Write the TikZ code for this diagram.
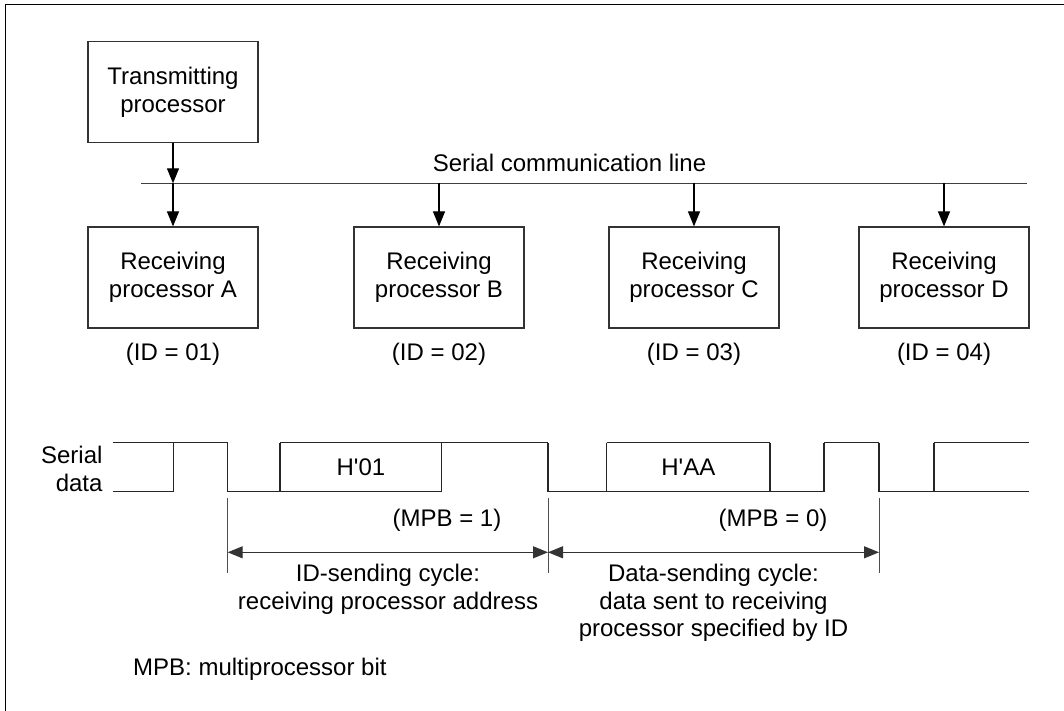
\documentclass[tikz,border=0pt]{standalone}
\usepackage{fontspec}
\setmainfont{Liberation Sans}[Ligatures=TeXOff]
\usetikzlibrary{arrows.meta}
\begin{document}
\begin{tikzpicture}[x=1pt,y=-1pt,
  every node/.style={font=\fontsize{24}{28}\selectfont, inner sep=0pt},
  procbox/.style={draw=black!80, line width=1.2pt, minimum width=170pt, minimum height=101pt, align=center},
  txt/.style={align=center},
  busline/.style={draw=black!75, line width=1.3pt},
  arr/.style={draw=black, line width=1.2pt, -{Triangle[length=15pt,width=12pt]}},
  wave/.style={draw=black!85, line width=1.2pt},
  extline/.style={draw=black!70, line width=0.9pt},
  dimarr/.style={draw=black!80, line width=1.1pt, {Triangle[length=15pt,width=12pt]}-{Triangle[length=15pt,width=12pt]}},
  frame/.style={draw=black, line width=1.6pt}
]
\useasboundingbox (0,0) rectangle (1064,711);
% frame
\draw[frame] (5.3,711) -- (5.3,4.7) -- (1064,4.7);

% processors
\node[procbox] (tx) at (173,92) {Transmitting\\processor};
\coordinate (busL) at (141,183.3);
\coordinate (busR) at (1027,183.3);
\draw[busline] (busL) -- (busR);
\node[anchor=base] (buslbl) at (569.5,171.7) {Serial communication line};

\node[procbox] (rA) at (173,277.5) {Receiving\\processor A};
\node[procbox] (rB) at (439,277.5) {Receiving\\processor B};
\node[procbox] (rC) at (694,277.5) {Receiving\\processor C};
\node[procbox] (rD) at (944,277.5) {Receiving\\processor D};

\draw[arr] (tx.south) -- (tx.south |- busL);
\draw[arr] (rA.north |- busL) -- (rA.north);
\draw[arr] (rB.north |- busL) -- (rB.north);
\draw[arr] (rC.north |- busL) -- (rC.north);
\draw[arr] (rD.north |- busL) -- (rD.north);

\node[anchor=base] (idA) at (173,360) {(ID = 01)};
\node[anchor=base] (idB) at (439,360) {(ID = 02)};
\node[anchor=base] (idC) at (694,360) {(ID = 03)};
\node[anchor=base] (idD) at (944,360) {(ID = 04)};

% serial data label
\node[anchor=base east] (sd1) at (102.7,463) {Serial};
\node[anchor=base east] (sd2) at (102.7,491.5) {data};

% waveform: top (high) segments
\def\hi{442.7}
\def\lo{491.5}
\draw[wave] (112.7,\hi) -- (227.7,\hi);
\draw[wave] (280,\hi) -- (548,\hi);
\draw[wave] (606.7,\hi) -- (770,\hi);
\draw[wave] (824,\hi) -- (879,\hi);
\draw[wave] (934,\hi) -- (1029,\hi);
% bottom (low) segments
\draw[wave] (112.7,\lo) -- (173.3,\lo);
\draw[wave] (227.7,\lo) -- (441.8,\lo);
\draw[wave] (548,\lo) -- (824,\lo);
\draw[wave] (879,\lo) -- (1029,\lo);
% transitions
\foreach \xx in {173.3,227.7,280,441.8,548,606.7,770,824,879,934}
  \draw[wave] (\xx,\hi) -- (\xx,\lo);

\node (h01) at (360.9,467) {H'01};
\node (haa) at (688.3,467) {H'AA};

% dimension lines
\draw[extline] (227.7,498) -- (227.7,573);
\draw[extline] (548,498) -- (548,573);
\draw[extline] (879,498) -- (879,573);
\coordinate (d1) at (227.7,552.3);
\coordinate (d2) at (548,552.3);
\coordinate (d3) at (879,552.3);
\draw[dimarr] (d1) -- (d2);
\draw[dimarr] (d2) -- (d3);

\node[anchor=base] (mpb1) at (447,526) {(MPB = 1)};
\node[anchor=base] (mpb0) at (773,526) {(MPB = 0)};

\node[anchor=base] (id1) at (388,581.5) {ID-sending cycle:};
\node[anchor=base] (id2) at (388,609) {receiving processor address};
\node[anchor=base] (ds1) at (713.5,581.5) {Data-sending cycle:};
\node[anchor=base] (ds2) at (713.5,609) {data sent to receiving};
\node[anchor=base] (ds3) at (713.5,636.5) {processor specified by ID};

\node[anchor=base west] (note) at (133,675) {MPB: multiprocessor bit};
\end{tikzpicture}
\end{document}
